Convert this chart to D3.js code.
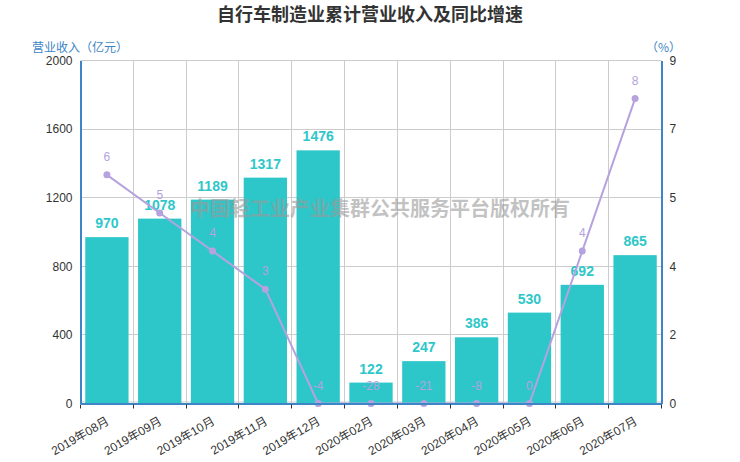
<!DOCTYPE html>
<meta charset="utf-8">
<style>
body { margin: 0; background: #fff; }
svg { display: block; font-family: "Noto Sans CJK SC", "Liberation Sans", sans-serif; }
.title { font-size: 18px; font-weight: bold; fill: #333; text-anchor: middle; }
.tick text { font-family: "Liberation Sans", "Noto Sans CJK SC", sans-serif; font-size: 12px; fill: #333; }
.axis-name { font-size: 12px; fill: #3d85c6; }
.bar-label { font-family: "Liberation Sans", Arial, sans-serif; font-size: 14px; font-weight: bold; fill: #2ec7c9; text-anchor: middle; }
.line-label { font-family: "Liberation Sans", Arial, sans-serif; font-size: 12px; fill: #b6a2de; text-anchor: middle; }
.watermark { font-size: 20px; font-weight: bold; fill: #999; fill-opacity: 0.6; text-anchor: middle; }
</style>
<body>
<script src="https://cdn.jsdelivr.net/npm/d3@7"></script>
<script>
// chart data
var months = ["2019年08月", "2019年09月", "2019年10月", "2019年11月", "2019年12月",
              "2020年02月", "2020年03月", "2020年04月", "2020年05月", "2020年06月", "2020年07月"];
var revenue = [970, 1078, 1189, 1317, 1476, 122, 247, 386, 530, 692, 865];
var growth = [6, 5, 4, 3, -4, -28, -21, -8, 0, 4, 8];
var leftTicks = [0, 400, 800, 1200, 1600, 2000];
var rightTicks = [0, 1.8, 3.6, 5.4, 7.2, 9];

var W = 740, H = 462;
var margin = {top: 60.5, right: 78.5, bottom: 58.5, left: 80.5};
var width = W - margin.left - margin.right,
    height = H - margin.top - margin.bottom;

var svg = d3.select("body").append("svg")
    .attr("width", W).attr("height", H);

svg.append("text").attr("class", "title")
    .attr("x", W / 2).attr("y", 21)
    .text("自行车制造业累计营业收入及同比增速");

var g = svg.append("g")
    .attr("transform", "translate(" + margin.left + "," + margin.top + ")");

var x = d3.scaleBand().domain(months).range([0, width])
    .paddingInner(0.18).paddingOuter(0.09);
var xb = d3.scaleBand().domain(months).range([0, width]);
var y = d3.scaleLinear().domain([0, 2000]).range([height, 0]);
var y2 = d3.scaleLinear().domain([0, 9]).range([height, 0]).clamp(true);

// grid
g.selectAll(".hgrid").data(leftTicks).enter().append("line")
    .attr("x1", 0).attr("x2", width)
    .attr("y1", function(d) { return Math.round(y(d)) - (d === 0 ? 1.5 : 0); })
    .attr("y2", function(d) { return Math.round(y(d)) - (d === 0 ? 1.5 : 0); })
    .attr("stroke", "#ccc");
g.selectAll(".vgrid").data(months.slice(1)).enter().append("line")
    .attr("x1", function(d) { return Math.round(xb(d)); })
    .attr("x2", function(d) { return Math.round(xb(d)); })
    .attr("y1", 0).attr("y2", height)
    .attr("stroke", "#ccc");

// bars
g.selectAll(".bar").data(revenue).enter().append("rect")
    .attr("fill", "#2ec7c9")
    .attr("x", function(d, i) { return x(months[i]); })
    .attr("width", x.bandwidth())
    .attr("y", function(d) { return y(d); })
    .attr("height", function(d) { return height - y(d); });

// watermark
g.append("text").attr("class", "watermark")
    .attr("x", 380 - margin.left).attr("y", 216 - margin.top)
    .text("中国轻工业产业集群公共服务平台版权所有");

g.selectAll(".bar-label").data(revenue).enter().append("text")
    .attr("class", "bar-label")
    .attr("x", function(d, i) { return x(months[i]) + x.bandwidth() / 2; })
    .attr("y", function(d) { return y(d) - 9; })
    .text(function(d) { return d; });

// line
var cx = function(d, i) { return xb(months[i]) + xb.bandwidth() / 2; };
g.append("path").datum(growth)
    .attr("fill", "none").attr("stroke", "#b6a2de").attr("stroke-width", 2)
    .attr("d", d3.line().x(cx).y(function(d) { return y2(d); }));
g.selectAll(".dot").data(growth).enter().append("circle")
    .attr("cx", cx).attr("cy", function(d) { return y2(d); })
    .attr("r", 3.5).attr("fill", "#b6a2de");
g.selectAll(".line-label").data(growth).enter().append("text")
    .attr("class", "line-label")
    .attr("x", cx).attr("y", function(d) { return y2(d) - 14; })
    .text(function(d) { return d; });

// axes
var axisColor = "#3d85c6";
var left = g.append("g")
    .call(d3.axisLeft(y).tickValues(leftTicks).tickSize(0).tickPadding(8)
      .tickFormat(d3.format("d")));
left.select(".domain").attr("stroke", axisColor).attr("stroke-width", 2);

var right = g.append("g").attr("transform", "translate(" + width + ",0)")
    .call(d3.axisRight(y2).tickValues(rightTicks).tickSize(0).tickPadding(8)
      .tickFormat(d3.format(".0f")));
right.select(".domain").attr("stroke", axisColor).attr("stroke-width", 2);

var bottom = g.append("g").attr("transform", "translate(0," + height + ")")
    .call(d3.axisBottom(xb).tickSize(0).tickPadding(0));
bottom.select(".domain").attr("stroke", axisColor).attr("stroke-width", 2);
bottom.selectAll(".tick text")
    .attr("text-anchor", "end")
    .attr("y", 0).attr("dy", 0)
    .attr("transform", "translate(3,20) rotate(-30)");

// boundary ticks on x axis
g.selectAll(".xtick").data(months.concat([null])).enter().append("line")
    .attr("x1", function(d, i) { return Math.round(i * xb.step()); })
    .attr("x2", function(d, i) { return Math.round(i * xb.step()); })
    .attr("y1", height + 1).attr("y2", height + 5)
    .attr("stroke", "#333");

// axis names
svg.append("text").attr("class", "axis-name")
    .attr("x", 32).attr("y", 52).text("营业收入（亿元）");
svg.append("text").attr("class", "axis-name")
    .attr("x", 646).attr("y", 52).text("（%）");
</script>
</body>
